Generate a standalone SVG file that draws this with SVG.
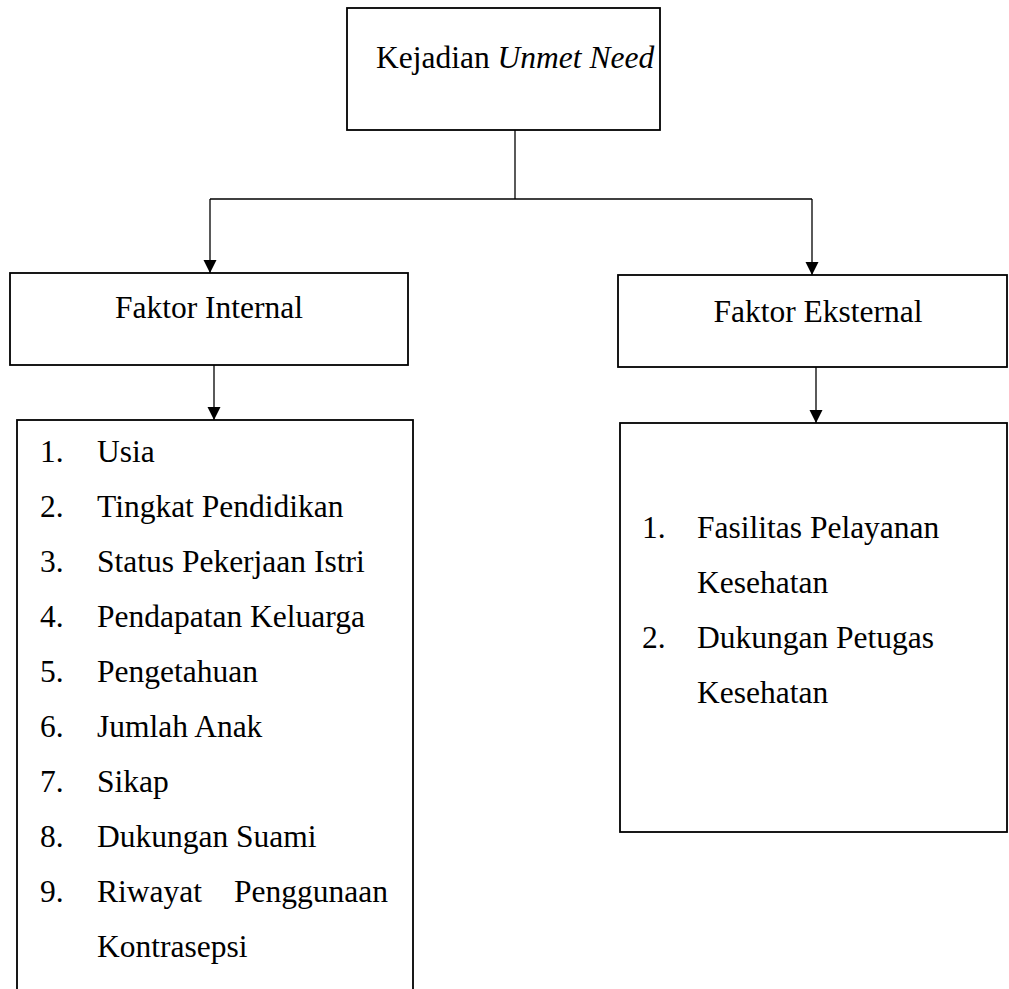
<svg xmlns="http://www.w3.org/2000/svg" width="1009" height="989" viewBox="0 0 1009 989">
<defs>
<style>
.box{fill:#fff;stroke:#000;stroke-width:1.8}
.t{font-family:"Liberation Serif","Times New Roman",serif;font-size:31.5px;fill:#000}
.con{fill:none;stroke:#000;stroke-width:1.3}
</style>
<marker id="ah" viewBox="0 0 10 10" refX="10" refY="5" markerUnits="userSpaceOnUse" markerWidth="13" markerHeight="14" orient="auto">
<path d="M0,0 L10,5 L0,10 Z" fill="#000"/>
</marker>
</defs>
<rect width="1009" height="989" fill="#fff"/>
<g id="connectors">
<path class="con" d="M515,130 V199"/>
<path class="con" d="M210,199 H812"/>
<path class="con" d="M210,199 V273" marker-end="url(#ah)"/>
<path class="con" d="M812,199 V275" marker-end="url(#ah)"/>
<path class="con" d="M214,365 V420" marker-end="url(#ah)"/>
<path class="con" d="M816,367 V423" marker-end="url(#ah)"/>
</g>
<g id="node-top">
<rect class="box" x="347" y="8" width="313" height="122"/>
<text class="t" x="376" y="68">Kejadian <tspan font-style="italic">Unmet Need</tspan></text>
</g>
<g id="node-internal">
<rect class="box" x="10" y="273" width="398" height="92"/>
<text class="t" x="209" y="318" text-anchor="middle">Faktor Internal</text>
</g>
<g id="node-eksternal">
<rect class="box" x="618" y="275" width="389" height="92"/>
<text class="t" x="818" y="322" text-anchor="middle">Faktor Eksternal</text>
</g>
<g id="list-internal">
<rect class="box" x="17" y="420" width="396" height="600"/>
<g class="t">
<text x="40" y="462">1.</text><text x="97" y="462">Usia</text>
<text x="40" y="517">2.</text><text x="97" y="517">Tingkat Pendidikan</text>
<text x="40" y="572">3.</text><text x="97" y="572">Status Pekerjaan Istri</text>
<text x="40" y="627">4.</text><text x="97" y="627">Pendapatan Keluarga</text>
<text x="40" y="682">5.</text><text x="97" y="682">Pengetahuan</text>
<text x="40" y="737">6.</text><text x="97" y="737">Jumlah Anak</text>
<text x="40" y="792">7.</text><text x="97" y="792">Sikap</text>
<text x="40" y="847">8.</text><text x="97" y="847">Dukungan Suami</text>
<text x="40" y="902">9.</text><text x="97" y="902">Riwayat</text><text x="388" y="902" text-anchor="end">Penggunaan</text>
<text x="97" y="957">Kontrasepsi</text>
</g>
</g>
<g id="list-eksternal">
<rect class="box" x="620" y="423" width="387" height="409"/>
<g class="t">
<text x="642" y="538">1.</text><text x="697" y="538">Fasilitas Pelayanan</text>
<text x="697" y="593">Kesehatan</text>
<text x="642" y="648">2.</text><text x="697" y="648">Dukungan Petugas</text>
<text x="697" y="703">Kesehatan</text>
</g>
</g>
</svg>
